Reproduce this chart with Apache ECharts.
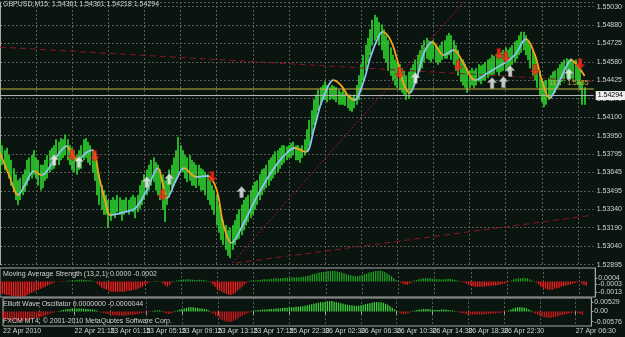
<!DOCTYPE html>
<html><head><meta charset="utf-8">
<script src="https://cdn.jsdelivr.net/npm/echarts@6/dist/echarts.min.js"></script>
<style>html,body{margin:0;padding:0;background:#0b1510;}#c{width:625px;height:337px;}</style>
</head><body><div id="c"></div>
<script>
const N = 264;
const xLabels = ['22 Apr 2010','22 Apr 17:15','22 Apr 21:15','23 Apr 01:15','23 Apr 05:15','23 Apr 09:15','23 Apr 13:15','23 Apr 17:15','25 Apr 22:30','26 Apr 02:30','26 Apr 06:30','26 Apr 10:30','26 Apr 14:30','26 Apr 18:30','26 Apr 22:30','27 Apr 02:30','27 Apr 06:30'];
const priceTicks = ['1.52895','1.53040','1.53190','1.53340','1.53495','1.53645','1.53795','1.53950','1.54100','1.54270','1.54425','1.54580','1.54725','1.54880','1.55030'];
const PMIN = 1.52895, PSTEP = 0.001525, PMAX = 1.55068;
const header = 'GBPUSD,M15  1.54361 1.54361 1.54218 1.54294';
const lastClose = 1.54294;
const yellowLevel = 1.54348;
const yellowTag = '182 \u00b7 1.5435';

const high = [
1.5393,1.5388,1.5384,1.5386,1.5380,1.5376,1.5369,1.5364,1.5359,1.5361,
1.5364,1.5368,1.5376,1.5378,1.5380,1.5384,1.5378,1.5376,1.5372,1.5372,
1.5376,1.5380,1.5384,1.5386,1.5388,1.5393,1.5391,1.5394,1.5393,1.5397,
1.5393,1.5388,1.5386,1.5384,1.5380,1.5384,1.5388,1.5393,1.5394,1.5391,
1.5388,1.5384,1.5380,1.5372,1.5364,1.5355,1.5351,1.5347,1.5343,1.5343,
1.5345,1.5343,1.5347,1.5345,1.5343,1.5343,1.5345,1.5343,1.5345,1.5347,
1.5345,1.5347,1.5355,1.5359,1.5364,1.5368,1.5372,1.5376,1.5378,1.5374,
1.5372,1.5368,1.5364,1.5359,1.5361,1.5368,1.5372,1.5378,1.5384,1.5395,
1.5388,1.5384,1.5380,1.5378,1.5380,1.5376,1.5374,1.5372,1.5372,1.5369,
1.5368,1.5366,1.5364,1.5359,1.5355,1.5351,1.5347,1.5339,1.5331,1.5326,
1.5322,1.5318,1.5320,1.5322,1.5326,1.5331,1.5335,1.5339,1.5343,1.5345,
1.5347,1.5351,1.5355,1.5358,1.5359,1.5364,1.5368,1.5369,1.5372,1.5376,
1.5378,1.5380,1.5383,1.5384,1.5386,1.5388,1.5388,1.5387,1.5388,1.5390,
1.5391,1.5388,1.5388,1.5386,1.5388,1.5393,1.5401,1.5409,1.5417,1.5426,
1.5430,1.5434,1.5436,1.5438,1.5441,1.5438,1.5436,1.5438,1.5437,1.5436,
1.5434,1.5432,1.5434,1.5431,1.5430,1.5430,1.5428,1.5430,1.5438,1.5446,
1.5455,1.5463,1.5471,1.5477,1.5484,1.5492,1.5496,1.5494,1.5490,1.5488,
1.5484,1.5479,1.5475,1.5469,1.5463,1.5459,1.5457,1.5455,1.5452,1.5450,
1.5446,1.5449,1.5452,1.5455,1.5459,1.5463,1.5467,1.5471,1.5475,1.5477,
1.5475,1.5474,1.5475,1.5471,1.5469,1.5471,1.5474,1.5475,1.5479,1.5481,
1.5479,1.5475,1.5471,1.5467,1.5460,1.5459,1.5455,1.5452,1.5450,1.5452,
1.5450,1.5452,1.5455,1.5454,1.5455,1.5457,1.5459,1.5460,1.5463,1.5462,
1.5464,1.5463,1.5465,1.5467,1.5469,1.5467,1.5469,1.5471,1.5474,1.5475,
1.5479,1.5482,1.5482,1.5479,1.5475,1.5471,1.5467,1.5463,1.5457,1.5450,
1.5444,1.5441,1.5442,1.5444,1.5446,1.5449,1.5450,1.5452,1.5455,1.5457,
1.5459,1.5460,1.5459,1.5460,1.5457,1.5459,1.5455,1.5452,1.5442,1.5436];
const low = [
1.5366,1.5372,1.5368,1.5369,1.5361,1.5355,1.5350,1.5343,1.5339,1.5343,
1.5347,1.5350,1.5355,1.5359,1.5361,1.5364,1.5361,1.5355,1.5351,1.5353,
1.5359,1.5361,1.5366,1.5368,1.5369,1.5376,1.5372,1.5376,1.5378,1.5380,
1.5376,1.5372,1.5368,1.5366,1.5364,1.5368,1.5369,1.5376,1.5378,1.5374,
1.5372,1.5366,1.5359,1.5347,1.5339,1.5335,1.5331,1.5331,1.5320,1.5326,
1.5331,1.5328,1.5333,1.5331,1.5326,1.5331,1.5333,1.5331,1.5335,1.5333,
1.5328,1.5333,1.5336,1.5339,1.5343,1.5347,1.5351,1.5355,1.5358,1.5351,
1.5347,1.5343,1.5335,1.5325,1.5339,1.5345,1.5351,1.5355,1.5359,1.5364,
1.5368,1.5366,1.5361,1.5358,1.5359,1.5355,1.5355,1.5353,1.5355,1.5351,
1.5351,1.5347,1.5343,1.5339,1.5335,1.5331,1.5322,1.5316,1.5310,1.5306,
1.5302,1.5297,1.5295,1.5302,1.5306,1.5310,1.5311,1.5314,1.5318,1.5322,
1.5325,1.5328,1.5331,1.5335,1.5339,1.5343,1.5347,1.5351,1.5353,1.5355,
1.5359,1.5361,1.5364,1.5366,1.5369,1.5372,1.5374,1.5376,1.5378,1.5378,
1.5380,1.5376,1.5376,1.5374,1.5378,1.5380,1.5384,1.5388,1.5397,1.5405,
1.5409,1.5417,1.5422,1.5426,1.5426,1.5424,1.5426,1.5427,1.5426,1.5424,
1.5422,1.5422,1.5422,1.5421,1.5419,1.5417,1.5416,1.5419,1.5422,1.5426,
1.5434,1.5442,1.5450,1.5457,1.5463,1.5471,1.5475,1.5477,1.5471,1.5467,
1.5460,1.5457,1.5450,1.5446,1.5442,1.5438,1.5436,1.5434,1.5432,1.5430,
1.5426,1.5427,1.5432,1.5436,1.5441,1.5444,1.5449,1.5452,1.5457,1.5460,
1.5459,1.5457,1.5460,1.5457,1.5455,1.5457,1.5459,1.5460,1.5460,1.5463,
1.5459,1.5455,1.5450,1.5446,1.5441,1.5438,1.5436,1.5432,1.5436,1.5438,
1.5436,1.5438,1.5441,1.5439,1.5442,1.5442,1.5444,1.5446,1.5446,1.5447,
1.5449,1.5446,1.5449,1.5450,1.5450,1.5449,1.5452,1.5455,1.5457,1.5460,
1.5463,1.5465,1.5467,1.5463,1.5459,1.5452,1.5446,1.5442,1.5436,1.5430,
1.5424,1.5420,1.5422,1.5426,1.5427,1.5430,1.5432,1.5436,1.5438,1.5441,
1.5442,1.5444,1.5442,1.5444,1.5441,1.5442,1.5438,1.5434,1.5422,1.5422];

// smoothed moving average: [bar, price]
const maPts = [[0,1.53818],[4,1.53636],[8,1.53471],[11,1.53553],[15,1.53669],[18.5,1.53636],[24,1.53760],[29.5,1.53876],[32,1.53810],[34.5,1.53760],[38,1.53818],[41,1.53843],[44,1.53611],[46.5,1.53429],[49,1.53305],[55,1.53330],[60,1.53363],[65,1.53512],[70,1.53694],[72,1.53570],[74,1.53446],[78,1.53595],[81.5,1.53694],[87,1.53620],[92,1.53628],[96,1.53512],[99,1.53222],[102.5,1.53074],[108,1.53239],[113,1.53429],[118,1.53595],[123,1.53735],[127,1.53818],[130.5,1.53860],[135.5,1.53827],[139,1.54009],[142,1.54215],[145,1.54356],[147.5,1.54422],[151,1.54381],[154,1.54298],[157,1.54257],[161,1.54406],[164,1.54604],[167,1.54753],[169.5,1.54820],[173,1.54753],[176,1.54588],[179,1.54381],[181.5,1.54315],[185,1.54464],[188,1.54654],[191.5,1.54737],[196.5,1.54629],[201,1.54671],[205,1.54571],[210.5,1.54422],[216,1.54480],[222,1.54546],[228,1.54629],[233,1.54762],[237,1.54629],[240,1.54422],[243.5,1.54273],[248,1.54422],[251,1.54538],[253,1.54588],[256,1.54538],[259,1.54455]];
const maTurns = [8,15,18.5,29.5,34.5,41,49,70,74,81.5,87,92,102.5,130.5,135.5,147.5,157,169.5,181.5,191.5,196.5,201,210.5,233,243.5,253];

const upArrows = [[24,1.53760],[35,1.53744],[65,1.53578],[75,1.53603],[107,1.53495],[184,1.54439],[218,1.54397],[223,1.54406],[226,1.54497],[252,1.54472]];
const downArrows = [[32,1.53802],[42,1.53793],[72,1.53471],[94,1.53620],[177,1.54480],[203,1.54538],[221,1.54637],[224,1.54613],[237,1.54505],[257,1.54555]];

const trendUpper = [[0,1.54695],[263,1.54412]];
const trendSteep = [[102.8,1.52908],[205.5,1.55068]];
const trendLower = [[104.5,1.52908],[263,1.53305]];

const masVals = [
-0.00135,-0.00148,-0.00148,-0.0016,-0.0016,-0.00172,-0.00172,-0.0018,-0.0018,-0.0018,
-0.00172,-0.00172,-0.0016,-0.00148,-0.00135,-0.00123,-0.00111,-0.00098,-0.00086,-0.00074,
-0.00062,-0.00049,-0.00037,-0.00025,-0.00012,0,
0.00002,-0.00005,-0.00006,0.00004,0.00008,0.0001,
0.00012,0.00015,0.00018,0.0002,0.00022,0.0002,0.00018,0.00015,0.00012,0.00008,0.00003,
-0.00025,-0.00049,-0.00074,-0.00086,-0.00098,-0.00111,-0.00123,-0.00123,-0.00123,-0.00123,-0.00123,-0.00123,-0.00123,-0.00111,-0.00111,-0.00111,-0.00098,-0.00098,-0.00086,-0.00074,-0.00062,-0.00037,-0.00025,-0.00012,
0.00003,0.00005,0.00006,0.00004,0.00001,
-0.00025,-0.00049,-0.00062,-0.00037,-0.00012,
0.00005,0.0001,0.00015,0.0002,0.00022,0.00025,0.00025,0.00022,0.0002,0.00018,0.00018,0.0002,0.00018,0.00015,0.0001,0.00005,
-0.00012,-0.00037,-0.00062,-0.00086,-0.00111,-0.00123,-0.00135,-0.00148,-0.0016,-0.0016,-0.00148,-0.00135,-0.00111,-0.00086,-0.00062,-0.00037,-0.00012,
0.00006,0.00012,0.00012,0.00012,0.00018,0.00018,0.00025,0.00025,0.00025,0.00025,0.00031,0.00031,0.00037,0.00037,0.00037,0.00037,0.00043,0.00043,0.00043,0.00049,0.00049,0.00049,0.00049,0.00049,0.00055,0.00062,0.00068,0.00074,0.00086,0.00092,0.00098,0.00105,0.00111,0.00111,0.00117,0.00123,0.00123,0.00123,0.00123,0.00117,0.00111,0.00105,0.00098,0.00086,0.0008,0.00074,0.00068,0.00062,0.00062,0.00068,0.00074,0.00086,0.00092,0.00105,0.00111,0.00117,0.00123,0.00123,0.00129,0.00123,0.00111,0.00098,0.0008,0.00062,0.00037,0.00018,0.00006,
-0.00012,-0.00025,-0.00037,-0.00037,-0.00025,-0.00012,
0.00012,0.00018,0.00025,0.00031,0.00037,0.00037,0.00037,0.00037,0.00031,0.00031,0.00025,0.00025,0.00025,0.00025,0.00025,0.00031,0.00031,0.00025,0.00018,0.00012,0.00006,
-0.00006,-0.00012,-0.00025,-0.00037,-0.00049,-0.00055,-0.00062,-0.00062,-0.00062,-0.00062,-0.00062,-0.00055,-0.00055,-0.00049,-0.00049,-0.00049,-0.00043,-0.00037,-0.00031,-0.00025,-0.00012,-0.00006,
0.00012,0.00025,0.00031,0.00037,0.00037,0.00043,0.00037,0.00037,0.00025,0.00012,0.00006,
-0.00012,-0.00037,-0.00062,-0.00074,-0.00086,-0.00098,-0.00098,-0.00098,-0.00086,-0.0008,-0.00074,-0.00062,-0.00055,-0.00049,-0.00043,-0.00037,-0.00025,-0.00018,-0.00012,-0.00006,
-0.00025,-0.00043,-0.00049];
const masTicks = [0.0012, 0.0004, -0.0003, -0.0013];
const masTickLabels = ['0.0012','0.0004','-0.0003','-0.0013'];

const ewoVals = [
-0.00412,-0.00441,-0.0047,-0.005,-0.00529,-0.00529,-0.00559,-0.00559,-0.00559,-0.00529,-0.00529,-0.005,-0.0047,-0.00441,-0.00412,-0.00382,-0.00353,-0.00294,-0.00265,-0.00235,-0.00176,-0.00118,-0.00088,-0.00059,-0.0003,
0.0003,0.00059,0.00088,0.00118,0.00147,0.00147,0.00176,0.00176,0.00176,0.00176,0.00176,0.00147,0.00147,0.00147,0.00118,0.00118,0.00088,0.00059,
-0.0003,-0.00059,-0.00088,-0.00118,-0.00147,-0.00176,-0.00206,-0.00235,-0.00235,-0.00235,-0.00235,-0.00235,-0.00235,-0.00206,-0.00206,-0.00176,-0.00176,-0.00147,-0.00118,-0.00088,-0.00059,-0.00059,-0.0003,-0.0003,
0.0003,0.00059,0.00059,0.00059,0.0003,
-0.00059,-0.00118,-0.00147,-0.00118,-0.00059,
0.0003,0.00059,0.00118,0.00147,0.00176,0.00206,0.00235,0.00235,0.00235,0.00206,0.00206,0.00176,0.00176,0.00147,0.00118,0.00059,
-0.00059,-0.00118,-0.00235,-0.00294,-0.00412,-0.0047,-0.00529,-0.00588,-0.00588,-0.00588,-0.00529,-0.0047,-0.00412,-0.00294,-0.00235,-0.00176,-0.00118,-0.00059,
0.0003,0.00059,0.00059,0.00088,0.00088,0.00118,0.00118,0.00118,0.00147,0.00147,0.00147,0.00176,0.00176,0.00176,0.00206,0.00206,0.00206,0.00235,0.00235,0.00235,0.00265,0.00265,0.00294,0.00294,0.00323,0.00353,0.00382,0.00412,0.00441,0.0047,0.005,0.00529,0.00529,0.00559,0.00588,0.00588,0.00588,0.00559,0.00529,0.005,0.0047,0.00441,0.00412,0.00382,0.00353,0.00353,0.00323,0.00323,0.00323,0.00353,0.00382,0.00412,0.00441,0.0047,0.005,0.00529,0.00529,0.00529,0.00529,0.005,0.00441,0.00382,0.00294,0.00206,0.00118,0.0003,
-0.00059,-0.00118,-0.00147,-0.00147,-0.00118,-0.00059,
0.0003,0.00059,0.00088,0.00118,0.00118,0.00147,0.00147,0.00147,0.00118,0.00118,0.00088,0.00088,0.00088,0.00118,0.00118,0.00118,0.00088,0.00059,0.00059,0.0003,
-0.0003,-0.00059,-0.00088,-0.00118,-0.00147,-0.00176,-0.00176,-0.00176,-0.00176,-0.00176,-0.00176,-0.00176,-0.00176,-0.00147,-0.00147,-0.00147,-0.00118,-0.00118,-0.00088,-0.00088,-0.00059,-0.0003,-0.0003,
0.00059,0.00118,0.00176,0.00206,0.00235,0.00235,0.00235,0.00206,0.00176,0.00118,0.00059,
-0.00059,-0.00118,-0.00176,-0.00235,-0.00294,-0.00323,-0.00353,-0.00353,-0.00353,-0.00323,-0.00294,-0.00265,-0.00235,-0.00206,-0.00176,-0.00147,-0.00118,-0.00088,-0.00059,-0.0003,
-0.00088,-0.00147,-0.00176];
const ewoTicks = [0.00529, 0, -0.00576];
const ewoTickLabels = ['0.00529','0.00','-0.00576'];

const FONT = 'Liberation Sans';
const TXT = '#d2d2d2';
const GRIDC = '#5a5a5a';
const FRAME = '#a8a8a8';
const ORANGE = '#f7a21b', BLUE = '#8cc4f0';
const LIME = '#30e830';

const cats = Array.from({length: N}, (_, i) => i);
const candle = high.map((h, i) => [low[i], h, low[i], h]);
const bidLine = [[0, lastClose], [N - 1, lastClose]];
const yellowLine = [[0, yellowLevel], {value: [N - 1, yellowLevel],
  label: {show: true, position: 'left', distance: 4, offset: [0, -6], formatter: yellowTag, color: '#c9b445', fontSize: 7, fontFamily: FONT}}];

const pieces = [];
{ let prev = 0, falling = true;
  for (const t of maTurns.concat([N])) { pieces.push({gte: prev, lt: t, color: falling ? ORANGE : BLUE}); prev = t; falling = !falling; } }

const vSplit = {show: true, interval: (i) => i % 16 === 0 && i > 0, lineStyle: {color: GRIDC, type: [2, 2], width: 1}};
const catAxis = (g, extra) => Object.assign({type: 'category', gridIndex: g, data: cats, boundaryGap: false,
  axisLine: {show: false}, axisTick: {show: false}, axisLabel: {show: false}, splitLine: vSplit}, extra || {});

const chart = echarts.init(document.getElementById('c'), null, {renderer: 'canvas'});
const upPath = 'path://M5,0L10,5L7,5L7,11L3,11L3,5L0,5Z';
const downPath = 'path://M3,0L7,0L7,6L10,6L5,11L0,6L3,6Z';

chart.setOption({
  backgroundColor: '#0b1510',
  animation: false,
  textStyle: {fontFamily: FONT},
  title: [
    {text: header, left: 3, top: 1, padding: 0, textStyle: {color: TXT, fontSize: 7, fontWeight: 'normal', fontFamily: FONT}},
    {text: 'Moving Average Strength (13,2,1) 0.0000 -0.0002', left: 3, top: 271, padding: 0, textStyle: {color: TXT, fontSize: 7, fontWeight: 'normal', fontFamily: FONT}},
    {text: 'Elliott Wave Oscillator 0.0000000 -0.0000044', left: 3, top: 301, padding: 0, textStyle: {color: TXT, fontSize: 7, fontWeight: 'normal', fontFamily: FONT}},
    {text: 'FXCM MT4, \u00a9 2001-2010 MetaQuotes Software Corp.', left: 3, top: 318, padding: 0, textStyle: {color: TXT, fontSize: 7, fontWeight: 'normal', fontFamily: FONT}}
  ],
  grid: [
    {left: 0, top: 2, width: 604, height: 262.6, show: false},
    {left: 0, top: 268, width: 604, height: 29, show: true, borderColor: FRAME, borderWidth: 1, backgroundColor: 'transparent'},
    {left: 0, top: 298, width: 604, height: 28, show: true, borderColor: FRAME, borderWidth: 1, backgroundColor: 'transparent'}
  ],
  xAxis: [
    catAxis(0),
    {type: 'value', gridIndex: 0, min: 0, max: N - 1, show: false},
    catAxis(1),
    catAxis(2, {axisTick: {show: true, interval: (i) => i % 16 === 0, length: 3, lineStyle: {color: FRAME}},
      axisLabel: {show: true, showMinLabel: true, showMaxLabel: true, interval: (i) => i % 16 === 0,
        formatter: (v) => (Number(v) % 16 === 0 && xLabels[Number(v) / 16]) ? xLabels[Number(v) / 16] : '',
        align: 'left', margin: 2, color: TXT, fontSize: 7, fontFamily: FONT}})
  ],
  yAxis: [
    {type: 'value', gridIndex: 0, position: 'right', min: PMIN, max: PMAX, interval: PSTEP, scale: true,
      axisLine: {show: true, lineStyle: {color: FRAME}}, axisTick: {show: true, length: 2, lineStyle: {color: FRAME}},
      axisLabel: {margin: 3, color: TXT, fontSize: 7, fontFamily: FONT, showMaxLabel: false,
        formatter: (v) => { const k = Math.round((v - PMIN) / PSTEP); return (Math.abs(PMIN + k * PSTEP - v) < 1e-7 && priceTicks[k]) ? priceTicks[k] : ''; }},
      splitLine: {show: true, lineStyle: {color: GRIDC, type: [2, 2]}}},
    {type: 'value', gridIndex: 1, position: 'right', min: -0.00185, max: 0.0016,
      axisLine: {show: true, lineStyle: {color: FRAME}}, axisTick: {show: true, length: 2, customValues: masTicks, lineStyle: {color: FRAME}},
      axisLabel: {margin: 3, color: TXT, fontSize: 7, fontFamily: FONT, customValues: masTicks, formatter: (v) => masTickLabels[masTicks.indexOf(v)] || ''},
      splitLine: {show: false}},
    {type: 'value', gridIndex: 2, position: 'right', min: -0.00824, max: 0.00765,
      axisLine: {show: true, lineStyle: {color: FRAME}}, axisTick: {show: true, length: 2, customValues: ewoTicks, lineStyle: {color: FRAME}},
      axisLabel: {margin: 3, color: TXT, fontSize: 7, fontFamily: FONT, customValues: ewoTicks, formatter: (v) => ewoTickLabels[ewoTicks.indexOf(v)] || ''},
      splitLine: {show: false}}
  ],
  visualMap: [{type: 'piecewise', show: false, dimension: 0, seriesIndex: 1, pieces: pieces}],
  series: [
    {type: 'candlestick', xAxisIndex: 0, yAxisIndex: 0, data: candle, barWidth: 1.5,
      itemStyle: {color: LIME, color0: LIME, borderColor: LIME, borderColor0: LIME, borderWidth: 0.5}},
    {type: 'line', xAxisIndex: 1, yAxisIndex: 0, data: maPts, smooth: 0.35, showSymbol: false, lineStyle: {width: 1.8}, z: 5},
    {type: 'line', xAxisIndex: 1, yAxisIndex: 0, data: trendUpper, showSymbol: false, lineStyle: {color: '#8a1426', width: 1, type: [6, 4]}, z: 3},
    {type: 'line', xAxisIndex: 1, yAxisIndex: 0, data: trendSteep, showSymbol: false, lineStyle: {color: '#a3124a', width: 1, type: [2, 2]}, z: 3},
    {type: 'line', xAxisIndex: 1, yAxisIndex: 0, data: trendLower, showSymbol: false, lineStyle: {color: '#8a1426', width: 1, type: [6, 4]}, z: 3},
    {type: 'line', xAxisIndex: 1, yAxisIndex: 0, data: yellowLine, showSymbol: true, symbolSize: 0.1, lineStyle: {color: '#c9b445', width: 1}, itemStyle: {color: '#c9b445'}, z: 4},
    {type: 'line', xAxisIndex: 1, yAxisIndex: 0, data: bidLine, showSymbol: false, lineStyle: {color: '#b8b8b8', width: 1}, z: 4,
      endLabel: {show: true, formatter: () => lastClose.toFixed(5), color: '#000', backgroundColor: '#eeeeee', padding: [1, 2], fontSize: 7, fontFamily: FONT, distance: 2}},
    {type: 'scatter', xAxisIndex: 1, yAxisIndex: 0, data: upArrows, symbol: upPath, symbolSize: [9, 11], z: 6,
      itemStyle: {color: '#f4f4f4', borderColor: '#9a9a9a', borderWidth: 0.6}},
    {type: 'scatter', xAxisIndex: 1, yAxisIndex: 0, data: downArrows, symbol: downPath, symbolSize: [9, 11], z: 6,
      itemStyle: {color: '#ff2a1a', borderColor: '#b01010', borderWidth: 0.6}},
    {type: 'bar', xAxisIndex: 2, yAxisIndex: 1, data: masVals, barWidth: 1.3,
      itemStyle: {color: (p) => p.value >= 0 ? '#22a022' : '#ff1c1c'}},
    {type: 'bar', xAxisIndex: 3, yAxisIndex: 2, data: ewoVals, barWidth: 1.3,
      itemStyle: {color: (p) => p.value >= 0 ? '#3cd23c' : '#d41a1a'}}
  ]
});
</script>
</body></html>
